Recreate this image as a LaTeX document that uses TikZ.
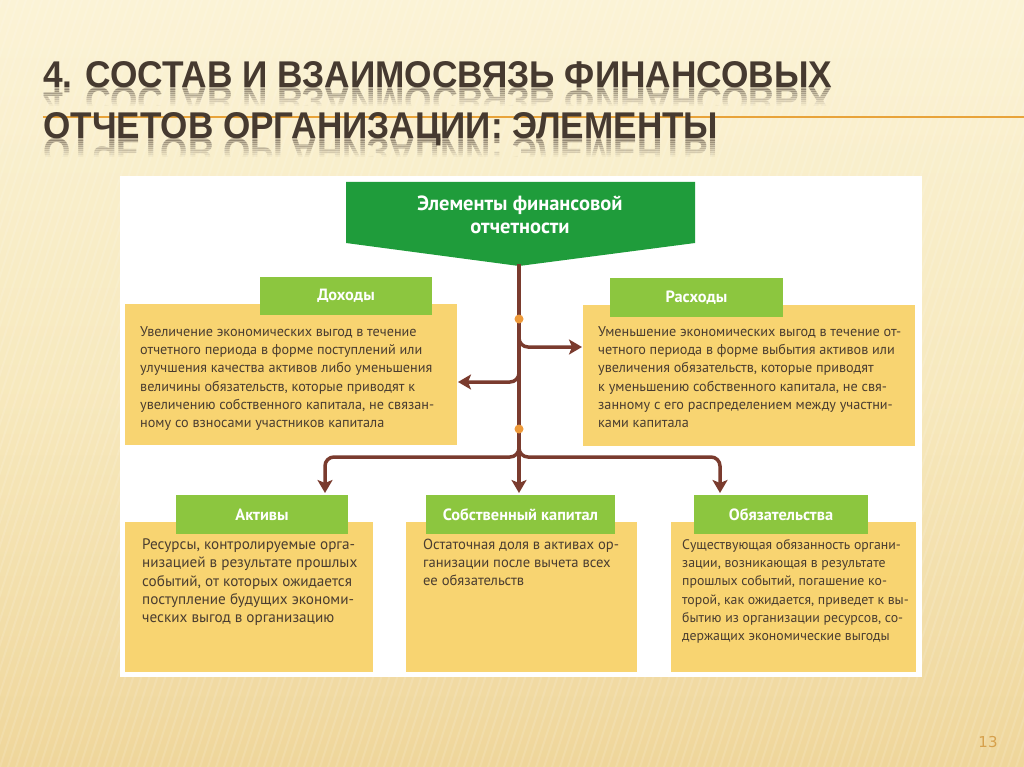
\documentclass[tikz,border=0pt]{standalone}
\usepackage{fontspec}
\usepackage{graphicx}
\setmainfont{PT Sans}
\newfontfamily\titlefont{Liberation Sans}
\newfontfamily\numfont{DejaVu Sans}
\usetikzlibrary{arrows.meta}
\definecolor{bgtop}{HTML}{FBF3D6}
\definecolor{bgmid}{HTML}{F7E9BE}
\definecolor{bgbot}{HTML}{EFD69B}
\definecolor{titlecol}{HTML}{463A30}
\definecolor{rulecol}{HTML}{E8A33A}
\definecolor{topgreen}{HTML}{1F9C3B}
\definecolor{limegreen}{HTML}{8CC63F}
\definecolor{boxyellow}{HTML}{F8D471}
\definecolor{bodytext}{HTML}{4A3D30}
\definecolor{brownline}{HTML}{7A3B2E}
\definecolor{dotorange}{HTML}{EE9A3A}
\definecolor{numcol}{HTML}{D6A04C}
\newcommand\tlineA{\resizebox{789pt}{26pt}{\titlefont\bfseries 4. СОСТАВ И ВЗАИМОСВЯЗЬ ФИНАНСОВЫХ}}
\newcommand\tlineB{\resizebox{675pt}{26pt}{\titlefont\bfseries ОТЧЕТОВ ОРГАНИЗАЦИИ: ЭЛЕМЕНТЫ}}
\tikzset{
  ybox/.style={fill=boxyellow, draw=none, anchor=north west, inner sep=0pt},
  glabel/.style={fill=limegreen, draw=none, text=white, inner sep=0pt,
    font=\fontsize{16.3}{19}\selectfont\bfseries},
  body/.style={anchor=north west, inner sep=0pt, align=left, text=bodytext,
    font=\fontsize{14.2}{18.3}\selectfont},
  conn/.style={draw=brownline, line width=3.5pt, rounded corners=9pt},
  arrowconn/.style={conn, -{Stealth[length=13pt,width=15pt,inset=3pt]}},
  dot/.style={circle, fill=dotorange, inner sep=0pt, minimum size=9pt},
}
\begin{document}
\begin{tikzpicture}[x=1pt,y=-1pt]
\useasboundingbox (0,0) rectangle (1024,767);
% background
\shade[top color=bgtop, bottom color=bgbot, middle color=bgmid] (0,0) rectangle (1024,767);
\foreach \i in {-40,...,135}
  \draw[white, opacity=0.13, line width=2pt] (\i*8,767) -- (\i*8+250,0);
% orange rule
\coordinate (rl) at (43,117);
\coordinate (rr) at (1024,117);
\draw[rulecol, line width=2.5pt] (rl) -- (rr);
% title reflections
\foreach \k [evaluate=\k as \op using 0.36-0.04*\k] in {0,...,8}{
  \begin{scope}
    \clip (0,88+2*\k) rectangle (1024,90+2*\k);
    \node[anchor=base west, inner sep=0pt, text=titlecol, opacity=\op] (ra\k) at (43,88) {\scalebox{1}[-1]{\tlineA}};
  \end{scope}
  \begin{scope}
    \clip (0,139+2*\k) rectangle (1024,141+2*\k);
    \node[anchor=base west, inner sep=0pt, text=titlecol, opacity=\op] (rb\k) at (43,139) {\scalebox{1}[-1]{\tlineB}};
  \end{scope}
}
% title
\node[anchor=base west, inner sep=0pt, text=titlecol] (title1) at (43,88) {\tlineA};
\node[anchor=base west, inner sep=0pt, text=titlecol] (title2) at (43,139) {\tlineB};
% panel
\fill[white] (120,176) rectangle (922,677);
% top box
\fill[topgreen] (346,182) -- (695,182) -- (695,243) -- (519,266) -- (346,243) -- cycle;
\node[align=center, text=white, font=\fontsize{20.5}{23}\selectfont\bfseries] (top) at (520,215)
  {Элементы финансовой\\отчетности};
\coordinate (tip) at (519,264);
% yellow boxes
\node[ybox, minimum width=332pt, minimum height=141pt] (dohY) at (125,304) {};
\node[ybox, minimum width=332pt, minimum height=141pt] (rasY) at (583,305) {};
\node[ybox, minimum width=248pt, minimum height=150pt] (aktY) at (125,522) {};
\node[ybox, minimum width=231pt, minimum height=150pt] (sobY) at (406,522) {};
\node[ybox, minimum width=245pt, minimum height=150pt] (obyY) at (671,522) {};
% green labels
\node[glabel, minimum width=172pt, minimum height=38pt] (dohL) at (346,296) {Доходы};
\node[glabel, minimum width=173pt, minimum height=39pt] (rasL) at (696.5,297.5) {Расходы};
\node[glabel, minimum width=172pt, minimum height=39pt] (aktL) at (262,514.5) {Активы};
\node[glabel, minimum width=189pt, minimum height=39pt] (sobL) at (520.5,514.5) {Собственный капитал};
\node[glabel, minimum width=174pt, minimum height=39pt] (obyL) at (781,514.5) {Обязательства};
% body texts
\node[body] (dohT) at (140,326) {Увеличение экономических выгод в течение\\
отчетного периода в форме поступлений или\\
улучшения качества активов либо уменьшения\\
величины обязательств, которые приводят к\\
увеличению собственного капитала, не связан-\\
ному со взносами участников капитала};
\node[body] (rasT) at (598,326) {Уменьшение экономических выгод в течение от-\\
четного периода в форме выбытия активов или\\
увеличения обязательств, которые приводят\\
к уменьшению собственного капитала, не свя-\\
занному с его распределением между участни-\\
ками капитала};
\node[body, font=\fontsize{15.2}{18.3}\selectfont] (aktT) at (142,538.5) {Ресурсы, контролируемые орга-\\
низацией в результате прошлых\\
событий, от которых ожидается\\
поступление будущих экономи-\\
ческих выгод в организацию};
\node[body, font=\fontsize{14.6}{18.3}\selectfont] (sobT) at (423,538.5) {Остаточная доля в активах ор-\\
ганизации после вычета всех\\
ее обязательств};
\node[body, font=\fontsize{13.8}{18.3}\selectfont] (obyT) at (682,539) {Существующая обязанность органи-\\
зации, возникающая в результате\\
прошлых событий, погашение ко-\\
торой, как ожидается, приведет к вы-\\
бытию из организации ресурсов, со-\\
держащих экономические выгоды};
% connectors
\coordinate (j1) at (519,330);
\coordinate (j2) at (519,362);
\coordinate (j3) at (519,440);
\coordinate (rasIn) at (582,347);
\coordinate (dohIn) at (458,382);
\coordinate (lc) at (325,457);
\coordinate (rc) at (720,457);
\coordinate (aktIn) at (325,493);
\coordinate (obyIn) at (720,493);
\coordinate (sobIn) at (519,493);
\draw[arrowconn] (tip) -- (sobIn);
\draw[arrowconn] (j1) |- (rasIn);
\draw[arrowconn] (j2) |- (dohIn);
\draw[arrowconn] (j3) |- (lc) -- (aktIn);
\draw[arrowconn] (j3) |- (rc) -- (obyIn);
\node[dot] (d1) at (519,319) {};
\node[dot] (d2) at (519,429) {};
% page number
\node[text=numcol, font=\numfont\fontsize{15}{18}\selectfont] (pnum) at (988,742) {13};
\end{tikzpicture}
\end{document}
